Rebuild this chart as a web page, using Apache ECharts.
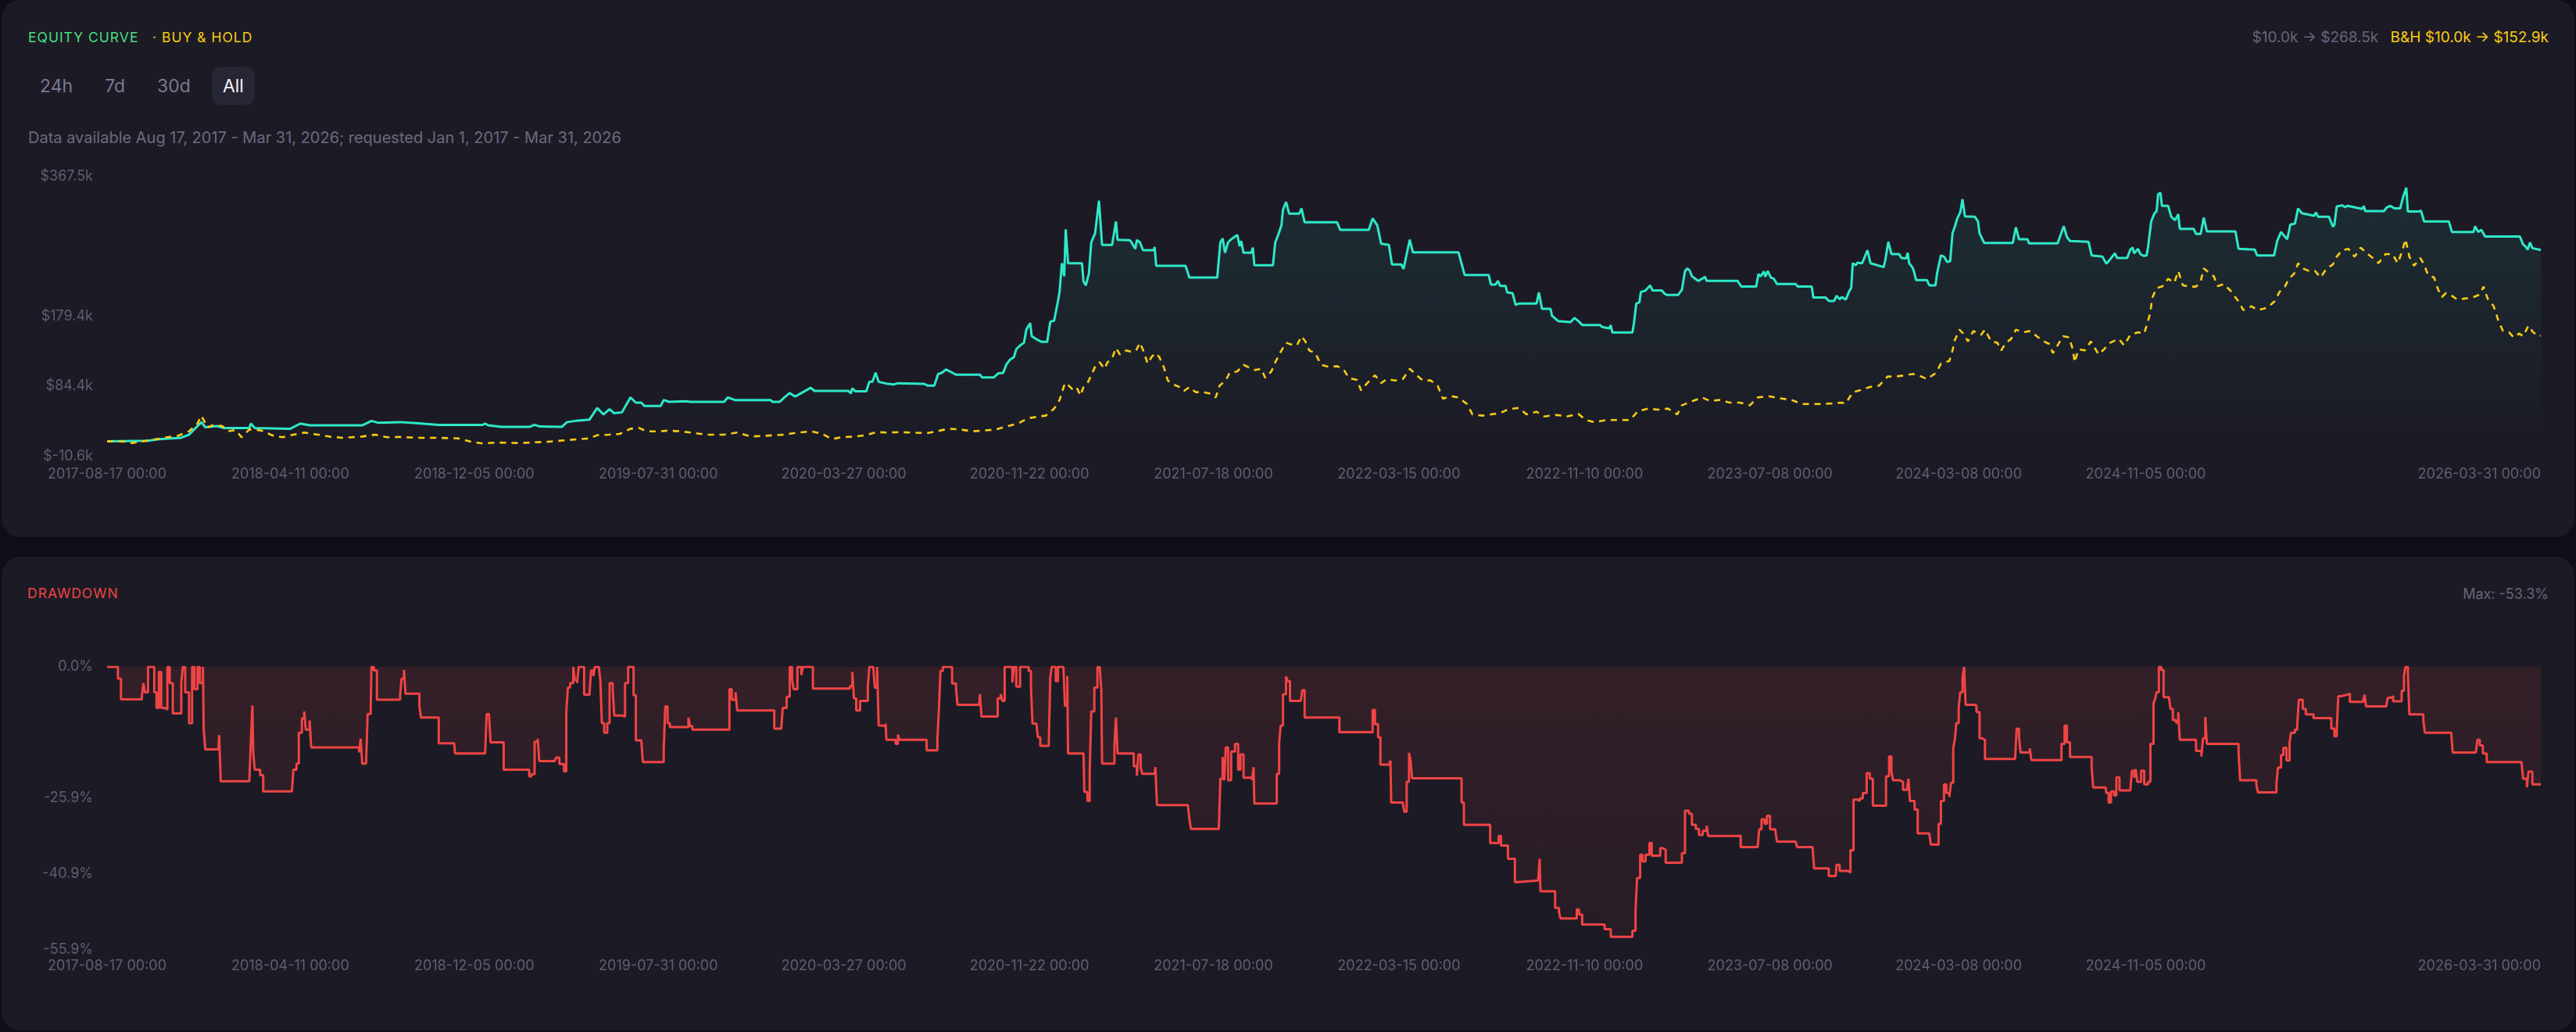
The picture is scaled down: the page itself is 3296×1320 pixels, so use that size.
<!DOCTYPE html>
<html lang="en">
<head>
<meta charset="UTF-8">
<title>Equity curve</title>
<script src="https://cdn.jsdelivr.net/npm/echarts@6.0.0/dist/echarts.min.js"></script>
<style>
    html, body { margin: 0; padding: 0; width: 3296px; height: 1320px; overflow: hidden; background: #0f0e16; font-family: Inter, "Noto Sans", sans-serif; }
    .card { position: absolute; left: 2px; width: 3292px; background: #1c1b25; border-radius: 24px; }
    #card1 { top: 0; height: 687px; }
    #card2 { top: 712px; height: 606px; }
    .txt { position: absolute; white-space: nowrap; line-height: 22px; }
    .caps { font-size: 17.5px; letter-spacing: 1px; }
    .btns { position: absolute; left: 37px; top: 86px; display: flex; gap: 13px; }
    .btn { height: 48px; line-height: 48px; padding: 0 14px; font-size: 23px; color: #7a7990; border-radius: 10px; }
    .btn.on { background: #272634; color: #f2f2f7; }
    #chart { position: absolute; left: 0; top: 0; width: 3296px; height: 1320px; }
</style>
</head>
<body>
<div class="card" id="card1"></div>
<div class="card" id="card2"></div>

<div class="txt caps" style="left:36px;top:37px;color:#4ade80">EQUITY CURVE</div>
<div class="txt caps" style="left:195px;top:37px;color:#facc15">· BUY &amp; HOLD</div>
<div class="txt" style="right:35px;top:37px;font-size:19px">
    <span style="color:#66657c">$10.0k → $268.5k</span>
    <span style="color:#facc15;margin-left:10px">B&amp;H $10.0k → $152.9k</span>
</div>
<div class="btns">
    <div class="btn">24h</div>
    <div class="btn">7d</div>
    <div class="btn">30d</div>
    <div class="btn on">All</div>
</div>
<div class="txt" style="left:36px;top:165px;font-size:20px;color:#6b6a80">Data available Aug 17, 2017 - Mar 31, 2026; requested Jan 1, 2017 - Mar 31, 2026</div>

<div class="txt caps" style="left:35px;top:748px;color:#ef4444">DRAWDOWN</div>
<div class="txt" style="right:35px;top:749px;font-size:18px;color:#66657c">Max: -53.3%</div>

<div id="chart"></div>

<script>
    // x = days since 2017-08-17
    var tickLabels = ['2017-08-17 00:00', '2018-04-11 00:00', '2018-12-05 00:00', '2019-07-31 00:00',
        '2020-03-27 00:00', '2020-11-22 00:00', '2021-07-18 00:00', '2022-03-15 00:00', '2022-11-10 00:00',
        '2023-07-08 00:00', '2024-03-08 00:00', '2024-11-05 00:00', '2026-03-31 00:00'];
    var equityTicks = [-10.6, 84.4, 179.4, 367.5];
    var drawdownTicks = [-55.9, -40.9, -25.9, 0];

    // strategy equity, $k
    var equityCurve = [
        [0,10],[53,10.8],[67,12.8],[95,14.7],[106,19],[122,36],[127,29],[142,30.6],[152,28],[184,28],
        [186,34],[191,28],[237,27],[250,34],[262,31.6],[330,31.6],[342,37.6],[351,35],[379,36],[400,34.5],
        [429,32.3],[486,32.3],[489,34],[493,31.6],[510,29.5],[546,29.5],[553,32.3],[560,30],[588,29.5],[595,36],
        [606,37.6],[624,39.4],[634,55],[642,46.4],[650,53.5],[656,48],[666,49.2],[677,69.3],[684,62.3],[691,62.3],
        [695,57.7],[716,57.7],[720,65.8],[727,63.3],[748,64],[755,63.3],[798,63.3],[803,69.3],[812,65.8],[858,65.8],
        [861,63.3],[870,63.3],[876,69.3],[883,75.3],[890,70.4],[900,76.4],[910,82.4],[915,78.1],[959,78.1],[962,74.6],
        [964,81.6],[968,77.5],[982,77.5],[986,90.4],[990,90.4],[994,102.7],[998,90.4],[1008,88],[1018,86.9],[1023,88.5],
        [1057,87.6],[1062,85.2],[1070,85.2],[1075,101],[1080,102.7],[1085,107],[1090,104.5],[1098,100],[1129,100],[1132,96.4],
        [1147,96.4],[1153,102],[1159,102.5],[1163,113.3],[1168,120.4],[1173,123.9],[1176,134.4],[1181,139.7],[1186,143.2],[1189,160.9],
        [1191,162.5],[1194,169.7],[1196,152],[1204,146.8],[1209,144.3],[1216,144.3],[1220,171.4],[1225,173.2],[1230,199.6],[1232,211.9],
        [1235,250.6],[1238,233],[1240,296.4],[1243,250.6],[1261,250.6],[1263,226],[1266,220.7],[1270,236.6],[1273,278.8],[1278,291.1],
        [1280,292.9],[1283,335.1],[1287,275.3],[1300,275.3],[1305,307],[1307,282.3],[1323,281.6],[1325,278.8],[1330,270],[1332,282],
        [1336,278.8],[1340,268.2],[1354,268.2],[1355,272.5],[1357,247.1],[1395,247.1],[1400,231.3],[1436,231.3],[1440,278.8],[1443,284],
        [1446,264.7],[1450,278.8],[1454,283],[1462,288.7],[1465,273.5],[1467,280.6],[1470,264.7],[1480,264.7],[1482,271.8],[1484,247.8],
        [1508,247.8],[1511,278.8],[1515,289.4],[1519,301.7],[1521,322.8],[1525,333.4],[1529,317.5],[1542,317.5],[1545,324.6],[1549,305.9],
        [1591,305.9],[1595,295.7],[1632,295.7],[1637,311.2],[1643,301.7],[1648,277],[1658,275.3],[1662,248.9],[1674,248.9],[1677,242.9],
        [1681,263],[1685,282.3],[1689,265.4],[1748,265.4],[1752,250],[1756,234.8],[1787,234.8],[1790,221.8],[1796,221.8],[1799,226.7],
        [1802,220],[1809,220],[1811,211.2],[1818,210.1],[1822,194.3],[1826,196.1],[1849,196.1],[1852,211.2],[1856,189],[1867,189],
        [1869,179.5],[1877,172.5],[1893,171.1],[1898,176.7],[1903,172.5],[1908,167.2],[1931,167.2],[1934,164.4],[1943,162.6],[1945,166.8],
        [1947,157],[1973,157],[1975,169.7],[1978,196.1],[1982,197.8],[1984,211.9],[1990,213.7],[1993,217.2],[1996,220.7],[1999,213.7],
        [2011,213.7],[2015,209.1],[2018,207.7],[2032,207.7],[2037,214.7],[2041,240.1],[2044,243.6],[2047,240.8],[2050,233],[2058,226.7],
        [2063,229.5],[2067,232.3],[2069,226.7],[2109,226.7],[2114,219],[2133,219],[2136,235.9],[2139,233],[2143,239.4],[2145,232.3],
        [2148,240.1],[2152,231.3],[2156,229.5],[2160,222.5],[2184,222.5],[2187,219],[2205,219],[2207,204.2],[2223,204.2],[2227,199.6],
        [2234,199.6],[2237,206.6],[2241,201.9],[2244,204.9],[2249,201.4],[2253,211.9],[2256,217.2],[2258,250.6],[2262,247.8],[2264,251.3],
        [2270,250.6],[2273,257.7],[2277,268.2],[2281,250.6],[2298,245.4],[2300,254.2],[2304,279.5],[2308,263],[2318,263],[2321,257.7],
        [2327,257],[2329,264.7],[2331,250.6],[2335,245.4],[2337,240.1],[2340,227.8],[2354,227.8],[2357,220.7],[2365,220.7],[2367,236.6],
        [2372,261.2],[2376,259.4],[2380,252.4],[2384,253.4],[2387,291.1],[2390,299.9],[2393,310.5],[2397,319.3],[2400,337],[2403,314],
        [2416,313.3],[2420,307],[2422,291.1],[2428,278.1],[2465,278.1],[2469,299.2],[2473,283],[2484,283],[2486,277.5],[2523,277.5],
        [2527,289.4],[2531,300.6],[2535,285.9],[2539,280.6],[2563,279.5],[2567,261.2],[2581,259.4],[2586,249.9],[2591,255.9],[2597,264],
        [2600,257.7],[2613,257.7],[2617,269],[2620,271.8],[2622,264],[2627,270],[2630,263],[2634,260.5],[2638,261.2],[2640,272.5],
        [2644,307],[2648,317.5],[2651,321],[2653,343.9],[2656,345.7],[2658,328.1],[2666,328.1],[2670,313.3],[2675,308.8],[2679,316.8],
        [2681,297.1],[2699,297.1],[2702,290.1],[2708,290.1],[2712,312.3],[2716,293.6],[2753,293.6],[2757,270],[2778,269],[2781,261.2],
        [2803,261.2],[2807,280.6],[2812,293],[2814,290.1],[2820,283],[2824,302.8],[2830,304.2],[2834,324.6],[2839,318.2],[2855,314.7],
        [2857,319.3],[2860,313.3],[2874,313.3],[2879,299.9],[2881,302.8],[2884,327.4],[2891,328.8],[2895,326.3],[2898,328.1],[2917,323.9],
        [2919,328.1],[2921,321],[2945,321],[2949,326.3],[2953,328.1],[2959,324.6],[2966,324.6],[2970,340.4],[2974,352.7],[2976,320.4],
        [2990,320.4],[2993,321.7],[2997,307],[3029,307],[3033,292.9],[3061,292.9],[3063,300.6],[3067,292.9],[3071,295.7],[3076,286.6],
        [3121,286.6],[3125,276],[3128,273.5],[3131,268.9],[3134,278.8],[3137,271],[3148,268.5]
    ];

    // buy & hold, $k
    var buyHold = [
        [0,10],[21,9.8],[32,7.7],[49,10.5],[64,13],[78,15.5],[92,17.6],[106,23.5],[117,34],[122,44.7],
        [130,28.8],[138,32.3],[149,30.6],[156,23.5],[166,25.3],[174,15.5],[184,26],[195,25.3],[202,24],[213,18.3],
        [227,15.5],[241,19],[255,21.8],[273,19],[287,16.5],[305,14.7],[330,16.5],[347,19],[362,15.5],[379,16],
        [400,14.7],[429,14.7],[454,14],[471,9.5],[486,7],[503,8.4],[535,7.7],[571,9.5],[599,12],[624,14],
        [634,18.3],[649,19],[663,20],[677,27],[688,28.1],[698,23.5],[713,23.5],[727,24.5],[741,23.5],[755,21.8],
        [776,19],[798,19],[815,21.8],[833,16.5],[851,17.5],[876,19],[893,21.8],[911,23.5],[925,20],[938,13],
        [949,15.5],[967,16.5],[982,18.3],[995,22.5],[1011,21.8],[1026,22.5],[1042,21.8],[1060,21],[1073,23.5],[1088,27],
        [1104,26],[1119,23.5],[1134,24.6],[1150,26],[1165,30.6],[1178,34],[1191,41.1],[1202,42.9],[1214,44.7],[1225,54.2],
        [1232,65.8],[1239,88.7],[1244,85.2],[1249,79.9],[1254,83],[1259,71.8],[1263,83.4],[1269,90.4],[1273,99.2],[1279,113.3],
        [1284,116.8],[1290,108],[1294,116.8],[1300,122.1],[1305,136.2],[1310,127.4],[1318,132.7],[1325,131],[1331,132.7],[1336,143.2],
        [1341,130.9],[1346,115],[1351,123.9],[1356,129.2],[1361,123.9],[1367,109.8],[1372,92.2],[1379,86.9],[1387,83.4],[1393,78.1],
        [1400,83.4],[1408,76.4],[1418,76.4],[1426,74.6],[1434,69.3],[1439,85.2],[1447,92.2],[1452,102.7],[1462,104.5],[1470,113.3],
        [1477,109.8],[1485,106.3],[1493,108],[1498,95.7],[1506,104.5],[1511,116.8],[1519,132.7],[1525,143.2],[1532,140.8],[1539,139.7],
        [1545,152],[1550,145],[1555,132.7],[1563,129.2],[1570,113.3],[1581,110.5],[1591,111.5],[1599,108],[1606,95.7],[1617,92.9],
        [1622,78.8],[1630,88.7],[1640,99.2],[1648,88.7],[1655,94],[1666,92.2],[1676,94],[1685,108],[1694,99.2],[1702,92.2],
        [1712,92.2],[1721,85.2],[1728,67.6],[1738,71.1],[1748,69.3],[1759,60.5],[1766,46.4],[1779,44.7],[1790,46.4],[1802,48.2],
        [1813,53.5],[1826,55.2],[1836,46.4],[1849,49.9],[1859,43.6],[1875,45.7],[1888,43.6],[1903,47.1],[1913,38.7],[1924,35.9],
        [1939,38.7],[1955,38.7],[1970,38.7],[1980,50.6],[1993,54.2],[2006,52.8],[2019,54.2],[2031,46.4],[2037,58.7],[2050,64],
        [2063,69.3],[2073,64.7],[2086,65.8],[2099,62.3],[2112,62.3],[2125,58.7],[2135,69.3],[2148,71.1],[2163,68.3],[2179,65.8],
        [2192,60.5],[2205,60.5],[2218,60.5],[2231,61.2],[2243,62.3],[2249,61.2],[2258,76.4],[2267,78.8],[2280,83.4],[2292,85.2],
        [2303,97.5],[2313,97.5],[2326,99.2],[2336,101],[2347,97.5],[2354,94],[2366,102.7],[2372,115],[2383,118.6],[2387,132.7],
        [2390,146.8],[2396,160.9],[2401,155.6],[2407,145],[2414,159.1],[2424,153.8],[2429,160.9],[2437,145],[2445,143.2],[2450,132.7],
        [2456,143.2],[2463,148.5],[2469,160.9],[2478,157.3],[2488,159.1],[2502,146.8],[2512,141.5],[2517,129.2],[2523,139.7],[2530,152],
        [2538,150.3],[2543,132.7],[2545,116.8],[2550,134.4],[2558,132.7],[2566,145],[2576,127.4],[2583,134.4],[2591,143.2],[2602,148.5],
        [2609,139.7],[2617,153.8],[2627,157.3],[2635,155.6],[2639,169.7],[2643,183.7],[2645,203],[2651,217.2],[2658,219],[2666,229.5],
        [2674,224.2],[2679,240.1],[2685,220.7],[2694,219],[2702,219],[2708,226],[2712,243.6],[2720,236.6],[2725,233],[2730,219.7],
        [2738,222.5],[2748,211.9],[2754,203],[2758,197.8],[2763,187.3],[2774,192.5],[2781,187.3],[2789,189],[2795,190.8],[2804,199.6],
        [2810,211.9],[2817,219],[2822,229.5],[2829,236.6],[2834,250.6],[2840,243.6],[2848,240.1],[2856,240.1],[2863,231.3],[2871,243.6],
        [2879,248.9],[2884,259.4],[2891,268.2],[2899,270],[2907,259.4],[2915,271.8],[2922,264.7],[2933,255.9],[2938,250.6],[2947,263],
        [2956,263],[2963,250.6],[2969,268.2],[2973,283],[2978,259.4],[2984,247.1],[2992,257.7],[2997,248.9],[3002,234.8],[3010,231.3],
        [3015,215.4],[3020,204.9],[3025,210.1],[3033,206.6],[3040,201.4],[3051,203.1],[3061,204.9],[3069,208.4],[3074,219],[3079,203.1],
        [3087,192.5],[3093,173.2],[3099,159.1],[3107,157.3],[3113,150.3],[3120,155.6],[3125,152],[3132,166.2],[3138,157.3],[3146,152],
        [3148,152.9]
    ];

    // drawdown, %
    var drawdown = [
        [0,0],[14,0],[14,-2.3],[18,-2.3],[18,-6.4],[42,-6.4],[45,-5.8],[47,-3.2],[49,-5],[53,0],
        [58,0],[61,-5],[64,-8.1],[67,-1],[70,-8.1],[74,-8.4],[78,0],[81,-3.2],[85,-9.2],[92,-9.2],
        [96,-3.2],[98,0],[101,-5],[106,-11.1],[110,0],[113,-4.4],[117,0],[120,-3.2],[124,0],[125,-12.4],
        [127,-16.3],[144,-16.3],[145,-13.5],[147,-22.6],[184,-22.6],[186,-14.5],[188,-7.6],[189,-16.9],[191,-20.3],[198,-21.4],
        [202,-24.6],[239,-24.6],[241,-20.3],[245,-19.1],[248,-13],[252,-10.2],[255,-8.8],[257,-12.4],[262,-10.6],[264,-15.9],
        [322,-15.9],[326,-16.9],[328,-14.2],[330,-19.1],[335,-19.1],[337,-9.3],[341,-8.1],[342,0],[345,-0.7],[349,-6.5],
        [376,-6.5],[379,-5.6],[381,-2.3],[384,-0.6],[386,-5.3],[400,-5.3],[404,-7.8],[406,-10],[425,-10],[429,-15.1],
        [449,-15.1],[450,-17.1],[489,-17.1],[491,-9.3],[494,-9.3],[496,-14.9],[510,-14.9],[513,-20.3],[542,-20.3],[546,-21.6],
        [549,-21.2],[553,-14.8],[557,-14.2],[559,-18.6],[579,-18.6],[581,-17.9],[585,-19.2],[591,-20.6],[594,-9],[596,-4.1],
        [599,-3.2],[603,0],[605,-2.6],[608,-3.2],[610,0],[614,0],[617,-5.5],[624,-5.5],[626,-0.7],[629,-1.8],
        [631,0],[636,0],[638,-2.6],[640,-11.1],[643,-13],[647,-11.1],[650,-3.2],[654,-4.4],[656,-9.6],[666,-9.8],
        [670,-3.2],[674,0],[677,0],[681,-5.6],[684,-14.5],[691,-14.5],[693,-18.8],[716,-18.8],[720,-16.3],[722,-7.8],
        [725,-11.1],[728,-11.9],[748,-11.9],[752,-10],[754,-11.7],[757,-12.4],[801,-12.4],[805,-4.4],[808,-6.5],[813,-5],
        [815,-8.6],[860,-8.6],[863,-12.2],[872,-12.2],[874,-8.1],[879,-5.9],[883,0],[886,-2.6],[888,-4.4],[893,0],
        [898,-1.6],[900,0],[910,0],[913,-4.3],[957,-4.3],[961,-3.8],[964,-1],[966,-6.2],[969,-8.6],[974,-6.7],
        [984,-6.7],[984,-4],[986,0],[991,0],[993,-4.1],[996,0],[998,-11.6],[1003,-11.8],[1007,-11.2],[1008,-14.4],
        [1017,-14.4],[1020,-15.2],[1023,-13.4],[1025,-14.4],[1057,-14.4],[1060,-16.5],[1071,-16.5],[1074,-14.4],[1076,-8.2],[1078,-0.8],
        [1081,0],[1088,0],[1093,-3.3],[1098,-4.1],[1100,-7.5],[1128,-7.5],[1129,-5.4],[1131,-9.8],[1149,-9.8],[1152,-6.2],
        [1156,-5.4],[1158,-6.7],[1161,0],[1168,0],[1171,-3.1],[1173,0],[1176,-3.9],[1181,0],[1186,0],[1192,-0.8],
        [1195,-3.9],[1197,-11.2],[1202,-11.2],[1204,-13.9],[1207,-15.6],[1218,-15.6],[1220,-2.1],[1222,0],[1227,-2.8],[1230,0],
        [1237,0],[1239,-7.7],[1242,-1.8],[1243,-17.1],[1263,-17.1],[1264,-24.7],[1268,-26.5],[1271,-20.6],[1273,-8.8],[1277,-4.1],
        [1281,0],[1284,0],[1286,-4.6],[1287,-19.1],[1300,-19.1],[1303,-15.4],[1305,-10],[1307,-17.1],[1325,-17.1],[1328,-19.6],
        [1332,-21.5],[1334,-17.3],[1337,-20],[1339,-21.1],[1355,-21.1],[1356,-19.8],[1358,-27.3],[1398,-27.3],[1400,-30.1],[1402,-32],
        [1438,-32],[1440,-22.1],[1443,-17.8],[1445,-22.4],[1447,-15.9],[1450,-22.4],[1454,-16.7],[1459,-15.2],[1463,-20.3],[1466,-17.3],
        [1470,-21.9],[1481,-22.4],[1483,-19.8],[1484,-27],[1509,-27],[1513,-21.1],[1516,-15.2],[1518,-11.6],[1521,-5.4],[1525,-1.9],
        [1527,-2.8],[1530,-6.7],[1544,-6.7],[1546,-4.6],[1549,-10],[1590,-10],[1594,-12.9],[1633,-12.9],[1637,-8.5],[1640,-11.3],
        [1644,-13.9],[1647,-19.3],[1658,-19.3],[1660,-18.5],[1661,-26.8],[1676,-26.8],[1678,-28.6],[1681,-22.7],[1684,-17],[1686,-18.5],
        [1688,-22],[1748,-22],[1752,-26.8],[1755,-31.2],[1785,-31.2],[1789,-34.8],[1797,-34.8],[1800,-33.4],[1803,-35.3],[1809,-35.3],
        [1812,-37.9],[1818,-37.9],[1821,-42.5],[1824,-42.2],[1851,-42.2],[1853,-37.9],[1854,-44.3],[1868,-44.3],[1873,-47.6],[1878,-48.4],
        [1880,-49.7],[1897,-49.7],[1901,-47.9],[1904,-48.9],[1908,-50.9],[1931,-50.9],[1937,-51.8],[1941,-51.8],[1945,-53.3],[1970,-53.3],
        [1973,-52.1],[1977,-48.2],[1979,-41.7],[1983,-37.1],[1986,-38.4],[1990,-37.1],[1995,-34.8],[1998,-37.3],[2005,-37.3],[2009,-35.8],
        [2012,-36.1],[2016,-38.7],[2034,-38.7],[2037,-36.8],[2041,-28.4],[2046,-29],[2050,-31.2],[2055,-32],[2059,-33.2],[2064,-32.4],
        [2069,-31.4],[2071,-33.4],[2110,-33.3],[2113,-35.6],[2135,-35.6],[2137,-32.1],[2140,-30.1],[2144,-31],[2147,-29.4],[2151,-32.1],
        [2158,-32.6],[2160,-34.5],[2184,-34.5],[2186,-35.6],[2206,-35.6],[2208,-39.8],[2223,-39.8],[2227,-41.3],[2236,-41.3],[2237,-39.1],
        [2241,-40.3],[2252,-40.6],[2255,-36.2],[2259,-26.2],[2264,-26.5],[2267,-26],[2271,-24.9],[2276,-21],[2280,-22.1],[2284,-27.4],
        [2298,-27.4],[2301,-21.6],[2305,-17.7],[2308,-20.5],[2310,-22.4],[2319,-22.7],[2323,-24.3],[2328,-24.3],[2330,-22.1],[2332,-26.5],
        [2335,-26.5],[2338,-28.2],[2342,-32.9],[2357,-32.9],[2359,-35.1],[2366,-35.1],[2369,-31],[2372,-26.5],[2376,-23.2],[2379,-24.9],
        [2383,-25.7],[2385,-22.9],[2388,-16],[2390,-14.4],[2392,-11.1],[2395,-8],[2397,-5],[2400,-2],[2402,0],[2404,-7.5],
        [2415,-7.6],[2418,-8.9],[2422,-14.1],[2425,-14.4],[2429,-18.2],[2468,-18.2],[2470,-12.2],[2473,-13.8],[2475,-16.9],[2484,-16.9],
        [2487,-16.1],[2489,-18.4],[2525,-18.4],[2528,-15.2],[2532,-11.6],[2535,-14.9],[2539,-17.8],[2564,-17.8],[2567,-19.9],[2569,-23.8],
        [2585,-23.8],[2586,-24.9],[2589,-26.8],[2592,-24.6],[2596,-25.4],[2599,-21.8],[2603,-24.4],[2617,-24.4],[2619,-20.5],[2622,-21.9],
        [2624,-20.2],[2626,-22.7],[2631,-20.5],[2635,-23.2],[2640,-22.7],[2643,-15.2],[2647,-7.2],[2649,-6.4],[2651,-5],[2654,0],
        [2657,-0.6],[2660,-6],[2667,-6.1],[2669,-8.3],[2672,-10.5],[2676,-11],[2679,-8.9],[2681,-14.4],[2699,-14.4],[2702,-16.6],
        [2705,-16.6],[2709,-17.7],[2711,-14.1],[2714,-9.9],[2716,-15.2],[2754,-15.2],[2757,-16.6],[2759,-22.4],[2775,-22.4],[2780,-23.2],
        [2782,-24.8],[2803,-24.8],[2806,-23.1],[2808,-19.9],[2812,-17.4],[2815,-16],[2819,-18.5],[2823,-14.9],[2825,-13],[2830,-12.4],
        [2833,-11.3],[2835,-6.5],[2840,-8.3],[2844,-9.4],[2851,-9.4],[2854,-10.1],[2874,-10.1],[2877,-12.2],[2881,-13.7],[2884,-12.7],
        [2886,-5.8],[2890,-5.5],[2897,-5.3],[2901,-6.9],[2918,-6.9],[2920,-5.5],[2922,-7.8],[2948,-7.8],[2950,-6.1],[2954,-5.8],
        [2957,-6.8],[2964,-6.8],[2968,-4.7],[2971,-1.7],[2973,0],[2976,-1.4],[2978,-9.4],[2993,-9.4],[2996,-10.5],[2998,-13],
        [3032,-13],[3034,-16.9],[3064,-16.9],[3066,-14.4],[3069,-15.5],[3073,-17.1],[3078,-18.8],[3123,-18.8],[3125,-22.1],[3130,-23.8],
        [3132,-20.7],[3137,-23.2],[3148,-23.2]
    ];

    var START = Date.parse('2017-08-17');
    var tickDays = tickLabels.map(function (s) {
        return Math.round((Date.parse(s.slice(0, 10)) - START) / 864e5);
    });
    var lastDay = tickDays[tickDays.length - 1];

    var labelColor = '#5f5e74';

    function xAxisFor(i) {
        return {
            type: 'value', gridIndex: i, min: 0, max: lastDay,
            axisLine: { show: false }, axisTick: { show: false }, splitLine: { show: false },
            axisLabel: {
                customValues: tickDays,
                alignMaxLabel: 'right',
                color: labelColor, fontSize: 18, fontFamily: 'Inter', margin: i === 0 ? 14 : 12,
                formatter: function (v) {
                    var k = tickDays.indexOf(Math.round(v));
                    return k >= 0 ? tickLabels[k] : '';
                }
            }
        };
    }

    var chart = echarts.init(document.getElementById('chart'), null, { renderer: 'canvas' });
    chart.setOption({
        animation: false,
        backgroundColor: 'transparent',
        grid: [
            { left: 137, right: 45, top: 226, height: 358 },
            { left: 137, right: 45, top: 853, height: 362 }
        ],
        xAxis: [xAxisFor(0), xAxisFor(1)],
        yAxis: [
            {
                type: 'value', gridIndex: 0, min: -10.6, max: 367.5,
                axisLine: { show: false }, axisTick: { show: false }, splitLine: { show: false },
                axisLabel: {
                    customValues: equityTicks, color: labelColor, fontSize: 18, fontFamily: 'Inter', margin: 18,
                    formatter: function (v) { return '$' + v.toFixed(1) + 'k'; }
                }
            },
            {
                type: 'value', gridIndex: 1, min: -55.9, max: 0,
                axisLine: { show: false }, axisTick: { show: false }, splitLine: { show: false },
                axisLabel: {
                    customValues: drawdownTicks, color: labelColor, fontSize: 18, fontFamily: 'Inter', margin: 18,
                    formatter: function (v) { return v.toFixed(1) + '%'; }
                }
            }
        ],
        series: [
            {
                name: 'Equity', type: 'line', xAxisIndex: 0, yAxisIndex: 0,
                data: equityCurve, symbol: 'none', silent: true,
                lineStyle: { color: '#2ee8c9', width: 3 },
                areaStyle: {
                    color: new echarts.graphic.LinearGradient(0, 0, 0, 1, [
                        { offset: 0, color: 'rgba(46,232,201,0.13)' },
                        { offset: 1, color: 'rgba(46,232,201,0)' }
                    ])
                }
            },
            {
                name: 'Buy & Hold', type: 'line', xAxisIndex: 0, yAxisIndex: 0,
                data: buyHold, symbol: 'none', silent: true,
                lineStyle: { color: '#facc15', width: 2.6, type: [8, 7] }
            },
            {
                name: 'Drawdown', type: 'line', xAxisIndex: 1, yAxisIndex: 1,
                data: drawdown, symbol: 'none', silent: true, step: 'end',
                lineStyle: { color: '#ef4444', width: 3 },
                areaStyle: {
                    color: new echarts.graphic.LinearGradient(0, 0, 0, 1, [
                        { offset: 0, color: 'rgba(239,68,68,0.16)' },
                        { offset: 1, color: 'rgba(239,68,68,0.07)' }
                    ])
                }
            }
        ]
    });
</script>
</body>
</html>
